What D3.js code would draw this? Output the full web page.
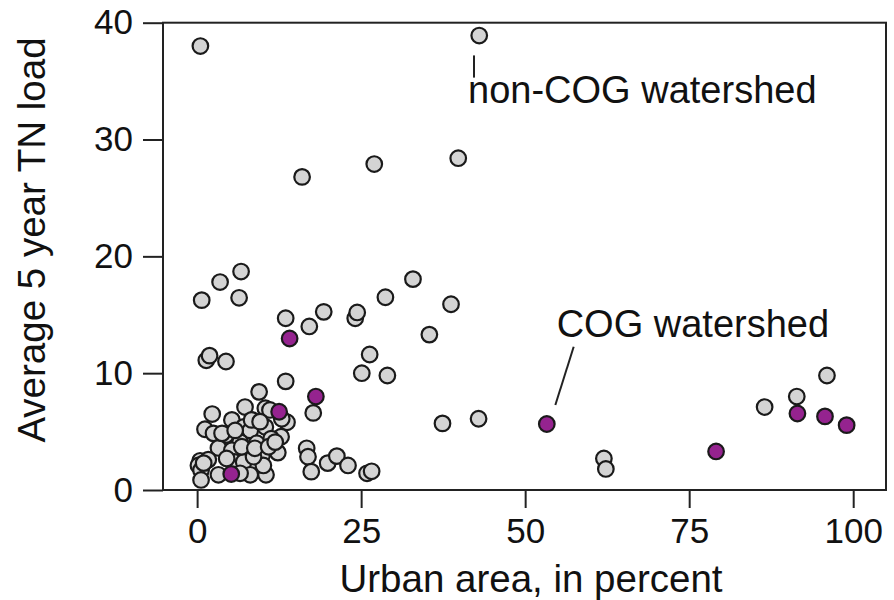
<!DOCTYPE html>
<html>
<head>
<meta charset="utf-8">
<script src="https://cdn.jsdelivr.net/npm/d3@7"></script>
<style>
  body { margin: 0; background: #fff; }
  text { font-family: "Liberation Sans", Arial, sans-serif; fill: #111; }
</style>
</head>
<body>
<script>
// non-COG watersheds: urban area (%) and average 5 year TN load
var nonCogUrban = [0.5, 43.0, 16.0, 27.0, 39.8,
  0.7, 3.5, 6.7, 6.4, 13.5, 17.1, 19.3, 24.1, 24.4, 28.7, 32.9, 38.7, 35.4, 26.3, 25.1, 29.0, 1.4, 1.9, 4.4, 13.5, 9.45,
  37.4, 42.9, 62.0, 62.3, 86.5, 91.4, 96.0,
  7.3, 2.3, 5.3, 10.4, 11.1, 13.7, 17.7, 1.2, 2.5, 4.4, 7.1, 8.1, 10.4, 12.8, 11.3, 9.1, 6.55, 3.25, 5.3, 7.8, 9.9, 12.3,
  0.46, 0.2, 0.6, 1.7, 0.6, 3.25, 5.7, 7.1, 8.1, 10.5, 10.1, 8.6, 4.5, 6.55, 16.7, 16.9, 17.4, 19.9, 21.3, 23.0, 25.9, 26.6,
  8.3, 9.6, 12.9, 3.8, 5.8, 6.8, 8.8, 10.9, 11.9, 1.0];
var nonCogLoad = [38.0, 38.9, 26.8, 27.9, 28.4,
  16.25, 17.8, 18.7, 16.45, 14.7, 14.0, 15.25, 14.7, 15.2, 16.5, 18.05, 15.9, 13.3, 11.6, 10.0, 9.8, 11.1, 11.5, 11.0, 9.3, 8.4,
  5.7, 6.1, 2.7, 1.8, 7.1, 8.0, 9.8,
  7.1, 6.5, 6.0, 7.0, 6.85, 5.8, 6.6, 5.2, 4.85, 4.7, 5.4, 5.1, 5.4, 4.56, 4.4, 4.0, 4.1, 3.6, 3.4, 3.4, 3.0, 3.2,
  2.5, 2.1, 1.7, 2.6, 0.86, 1.3, 2.4, 2.4, 1.3, 1.3, 2.1, 2.85, 2.7, 1.43, 3.57, 2.85, 1.57, 2.3, 2.9, 2.1, 1.43, 1.6,
  6.0, 5.85, 6.1, 4.85, 5.1, 3.7, 3.57, 3.7, 4.1, 2.3];

// COG watersheds
var cogUrban = [14.1, 18.1, 12.5, 5.2, 53.3, 79.1, 91.5, 95.7, 99.0];
var cogLoad = [12.97, 8.0, 6.7, 1.37, 5.65, 3.3, 6.55, 6.3, 5.55];

var xTicks = [0, 25, 50, 75, 100];
var yTicks = [0, 10, 20, 30, 40];

var w = 894, h = 600;

var x = d3.scaleLinear().domain([-5.2, 105]).range([163, 886]);
var y = d3.scaleLinear().domain([0, 40]).range([490, 22.7]);

var svg = d3.select("body").append("svg")
    .attr("width", w)
    .attr("height", h);

// axes
var gx = svg.append("g")
    .attr("transform", "translate(0," + y(0) + ")")
    .call(d3.axisBottom(x).tickValues(xTicks).tickSize(18).tickPadding(10));
var gy = svg.append("g")
    .attr("transform", "translate(" + x.range()[0] + ",0)")
    .call(d3.axisLeft(y).tickValues(yTicks).tickSize(20).tickPadding(10));

[gx, gy].forEach(function(g) {
  g.select(".domain").remove();
  g.selectAll(".tick line").attr("stroke", "#222").attr("stroke-width", 2);
  g.selectAll(".tick text").attr("font-size", 35).attr("fill", "#111")
    .style("font-family", '"Liberation Sans", Arial, sans-serif');
});

// frame
svg.append("rect")
    .attr("x", x.range()[0])
    .attr("y", y.range()[1])
    .attr("width", x.range()[1] - x.range()[0])
    .attr("height", y.range()[0] - y.range()[1])
    .attr("fill", "none")
    .attr("stroke", "#222")
    .attr("stroke-width", 2);

// points
var nonCog = nonCogUrban.map(function(d, i) { return [d, nonCogLoad[i]]; });
var cog = cogUrban.map(function(d, i) { return [d, cogLoad[i]]; });

svg.append("g").selectAll("circle")
  .data(nonCog)
  .enter().append("circle")
    .attr("cx", function(d) { return x(d[0]); })
    .attr("cy", function(d) { return y(d[1]); })
    .attr("r", 7.8)
    .attr("fill", "#d4d4d4")
    .attr("stroke", "#1a1a1a")
    .attr("stroke-width", 2.2);

svg.append("g").selectAll("circle")
  .data(cog)
  .enter().append("circle")
    .attr("cx", function(d) { return x(d[0]); })
    .attr("cy", function(d) { return y(d[1]); })
    .attr("r", 7.8)
    .attr("fill", "#95238f")
    .attr("stroke", "#1a1a1a")
    .attr("stroke-width", 2.2);

// annotations
svg.append("line")
    .attr("x1", x(42.2)).attr("y1", y(37.2))
    .attr("x2", x(42.2)).attr("y2", y(35.3))
    .attr("stroke", "#222").attr("stroke-width", 2);
svg.append("text")
    .attr("x", x(41.3)).attr("y", y(33.1))
    .attr("font-size", 38)
    .text("non-COG watershed");

svg.append("line")
    .attr("x1", x(57.4)).attr("y1", y(12.26))
    .attr("x2", x(54.6)).attr("y2", y(7.27))
    .attr("stroke", "#222").attr("stroke-width", 2);
svg.append("text")
    .attr("x", x(54.8)).attr("y", y(13.1))
    .attr("font-size", 38)
    .text("COG watershed");

// axis titles
svg.append("text")
    .attr("x", 531).attr("y", 592)
    .attr("text-anchor", "middle")
    .attr("font-size", 38.5)
    .text("Urban area, in percent");

svg.append("text")
    .attr("transform", "translate(45,240) rotate(-90)")
    .attr("text-anchor", "middle")
    .attr("font-size", 38.5)
    .text("Average 5 year TN load");
</script>
</body>
</html>
